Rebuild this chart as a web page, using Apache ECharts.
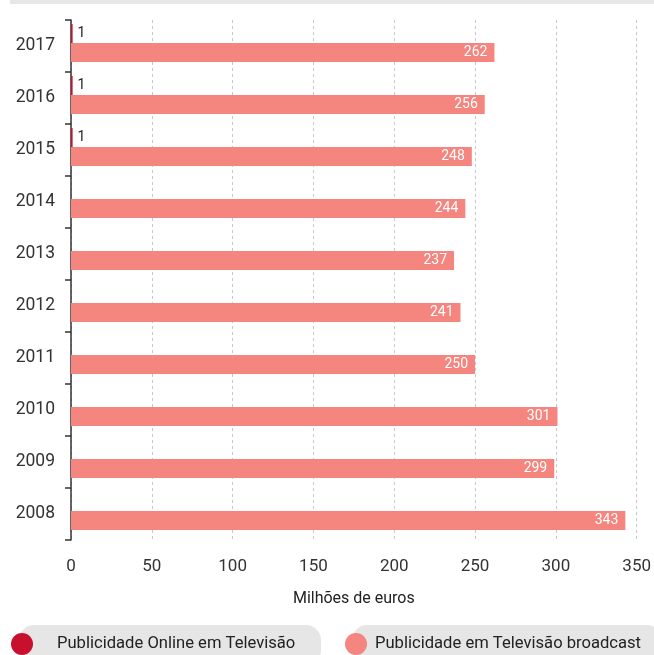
<!DOCTYPE html>
<html>
<head>
<meta charset="utf-8">
<script src="https://cdn.jsdelivr.net/npm/echarts@6/dist/echarts.min.js"></script>
<style>
  html, body { margin: 0; padding: 0; background: #ffffff; }
  #chart { width: 654px; height: 655px; }
</style>
</head>
<body>
<div id="chart"></div>
<script>
// Advertising revenue from television, in millions of euros
const years = ['2017', '2016', '2015', '2014', '2013', '2012', '2011', '2010', '2009', '2008'];
const onlineTv = [1, 1, 1, null, null, null, null, null, null, null];
const broadcastTv = [262, 256, 248, 244, 237, 241, 250, 301, 299, 343];
const xTicks = [0, 50, 100, 150, 200, 250, 300, 350];

const seriesNames = ['Publicidade Online em Televisão', 'Publicidade em Televisão broadcast'];
const colors = ['#c8102e', '#f4857f'];
const FONT = 'Roboto, "Liberation Sans", sans-serif';

const chart = echarts.init(document.getElementById('chart'), null, { renderer: 'canvas' });

chart.setOption({
  animation: false,
  textStyle: { fontFamily: FONT },
  graphic: [
    { type: 'rect', shape: { x: 10, y: 0, width: 650, height: 4 }, style: { fill: '#e6e7e8' }, silent: true },
    { type: 'rect', shape: { x: 19, y: 625, width: 302, height: 40, r: 15 }, style: { fill: '#e6e6e6' }, silent: true, z: -1 },
    { type: 'rect', shape: { x: 352, y: 625, width: 310, height: 40, r: 15 }, style: { fill: '#e6e6e6' }, silent: true, z: -1 }
  ],
  legend: [
    {
      data: [seriesNames[0]],
      left: 6, top: 628,
      icon: 'circle', itemWidth: 22, itemHeight: 22,
      textStyle: { fontFamily: FONT, fontSize: 16.6, color: '#222', padding: [0, 0, 0, 19] }
    },
    {
      data: [seriesNames[1]],
      left: 340, top: 628,
      icon: 'circle', itemWidth: 22, itemHeight: 22,
      textStyle: { fontFamily: FONT, fontSize: 16.6, color: '#222', padding: [0, 0, 0, 3] }
    }
  ],
  grid: { left: 71, top: 20, width: 566, height: 520, containLabel: false },
  xAxis: {
    type: 'value',
    min: 0, max: 350, interval: 50,
    name: 'Milhões de euros',
    nameLocation: 'middle',
    nameGap: 51,
    nameTextStyle: { fontFamily: FONT, fontSize: 16, color: '#222' },
    axisLine: { show: false },
    axisTick: { show: false },
    axisLabel: {
      margin: 18, fontSize: 17, color: '#333', fontFamily: FONT,
      formatter: v => (xTicks.indexOf(v) >= 0 ? String(v) : '')
    },
    splitLine: { show: true, lineStyle: { type: [3, 3], color: '#c8c8c8', width: 1 } }
  },
  yAxis: {
    type: 'category',
    data: years,
    inverse: true,
    axisLine: { show: true, lineStyle: { color: '#333', width: 1.5 } },
    axisTick: { show: true, length: 6, lineStyle: { color: '#333', width: 1.5 } },
    axisLabel: { margin: 16, fontSize: 17.5, color: '#333', fontFamily: FONT },
    splitLine: { show: false }
  },
  series: [
    {
      name: seriesNames[0],
      type: 'bar',
      data: onlineTv,
      barWidth: 19,
      barGap: '0%',
      itemStyle: { color: colors[0] },
      label: {
        show: true, position: 'right', distance: 5,
        fontSize: 14, color: '#222', fontFamily: FONT
      }
    },
    {
      name: seriesNames[1],
      type: 'bar',
      data: broadcastTv,
      barWidth: 19,
      barGap: '0%',
      itemStyle: { color: colors[1] },
      label: {
        show: true, position: 'insideRight', distance: 7,
        fontSize: 14, color: '#ffffff', fontFamily: FONT
      }
    },
    {
      // empty slot below each pair, keeps the bars sitting a little above the band centre
      name: 'spacer',
      type: 'bar',
      data: [],
      barWidth: 6,
      barGap: '0%',
      silent: true
    }
  ]
});
</script>
</body>
</html>
